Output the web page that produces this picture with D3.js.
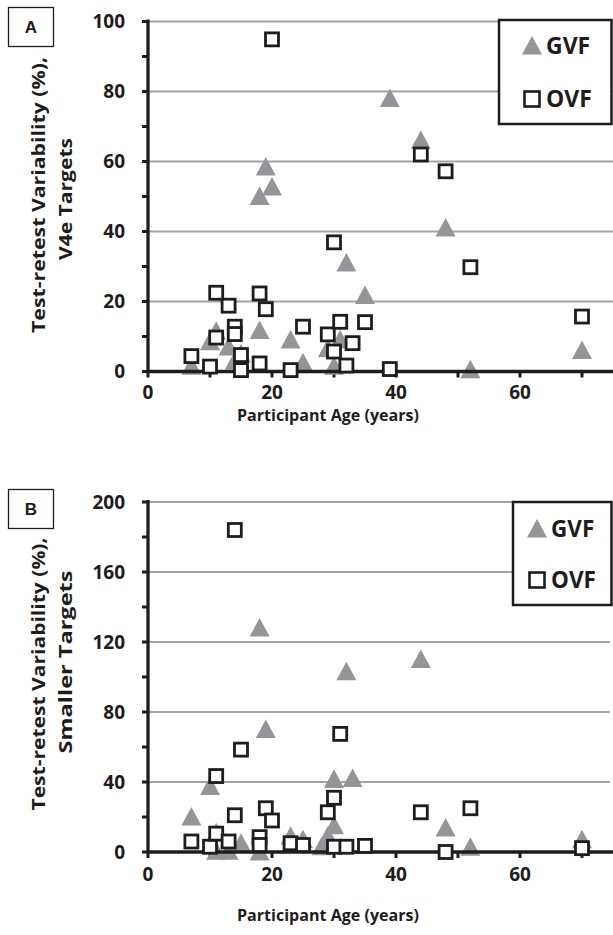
<!DOCTYPE html>
<html><head><meta charset="utf-8">
<script src="https://cdn.jsdelivr.net/npm/d3@7"></script>
<style>
html,body{margin:0;padding:0;background:#fff;}
svg text{font-family:"Open Sans",Lato,sans-serif;font-weight:700;fill:#1f1c1d;}
</style></head>
<body>
<svg id="c" width="613" height="935"></svg>
<script>
// ---------- data ----------
const seriesNames = ["GVF", "OVF"];
const xTickLabels = [0, 20, 40, 60];
const xMinorTicks = [10, 30, 50, 70];
const yTicksA = [0, 20, 40, 60, 80, 100];
const yMinorA = [10, 30, 50, 70, 90];
const yTicksB = [0, 40, 80, 120, 160, 200];
const yMinorB = [20, 60, 100, 140, 180];

// Panel A: V4e targets  [age, variability %]
const gvfA_age = [7, 10, 11, 13, 14, 15, 18, 18, 19, 20, 23, 25, 29, 30, 31, 32, 35, 39, 44, 48, 52, 70];
const gvfA_val = [1.5, 8.5, 11.5, 7, 3, 5, 11.7, 50, 58.4, 52.7, 9, 2.5, 6.5, 1.5, 9, 31, 21.7, 78, 66, 41, 0.5, 6];
const ovfA_age = [7, 10, 11, 11, 13, 14, 14, 15, 15, 18, 18, 19, 20, 23, 25, 29, 30, 30, 31, 32, 33, 35, 39, 44, 48, 52, 70];
const ovfA_val = [4.4, 1.4, 22.5, 9.7, 18.8, 12.8, 10.7, 4.7, 0.4, 22.3, 2.3, 17.8, 94.9, 0.4, 12.8, 10.6, 36.9, 5.7, 14.2, 1.7, 8.1, 14.1, 0.7, 62, 57.2, 29.8, 15.7];

// Panel B: smaller targets
const gvfB_age = [7, 10, 11, 11, 13, 15, 18, 18, 19, 23, 25, 28, 29, 30, 30, 32, 33, 44, 48, 52, 70];
const gvfB_val = [20, 37.5, 11, 0.5, 0.5, 5, 128, 0, 70, 9, 7, 3, 9, 41.5, 15, 103, 42, 110, 13.7, 2.7, 7];
const ovfB_age = [7, 10, 11, 11, 13, 14, 14, 15, 18, 18, 19, 20, 23, 25, 29, 30, 30, 31, 32, 35, 44, 48, 52, 70];
const ovfB_val = [6, 3, 10.5, 43.4, 6, 21, 184, 58.5, 8.5, 4, 25, 18, 5, 4, 22.7, 31, 3, 67.5, 3, 3.5, 22.7, 0, 25, 2.2];

// ---------- drawing ----------
const svg = d3.select("#c");
const GRAY = "#939598";
const INK = "#1f1c1d";

function panel(opt) {
  const g = svg.append("g");
  const x = d3.scaleLinear().domain([0, 75]).range([148, 613]);
  const y = d3.scaleLinear().domain(opt.yDomain).range([opt.y0, opt.yTop]);

  // gridlines
  g.selectAll("line.grid").data(opt.yTicks.filter(d => d > 0)).join("line")
    .attr("x1", x(0)).attr("x2", opt.gridEnd)
    .attr("y1", d => y(d)).attr("y2", d => y(d))
    .attr("stroke", "#a3a3a3").attr("stroke-width", 2.2);

  // y axis ticks (major + minor)
  g.selectAll("line.yt").data(opt.yTicks.concat(opt.yMinor)).join("line")
    .attr("x1", x(0) - 6).attr("x2", x(0))
    .attr("y1", d => y(d)).attr("y2", d => y(d))
    .attr("stroke", INK).attr("stroke-width", 3);
  g.selectAll("text.yl").data(opt.yTicks).join("text")
    .attr("x", 125).attr("y", d => y(d)).attr("dy", "0.36em")
    .attr("text-anchor", "end").attr("font-size", 19)
    .text(d => d);

  // x axis ticks
  g.selectAll("line.xt").data(xTickLabels.concat(xMinorTicks)).join("line")
    .attr("x1", d => x(d)).attr("x2", d => x(d))
    .attr("y1", opt.y0).attr("y2", opt.y0 + 6)
    .attr("stroke", INK).attr("stroke-width", 3);
  g.selectAll("text.xl").data(xTickLabels).join("text")
    .attr("x", d => x(d)).attr("y", opt.y0 + opt.xLabOff).attr("dy", "0.36em")
    .attr("text-anchor", "middle").attr("font-size", 19)
    .text(d => d);

  // y axis line
  g.append("line").attr("x1", x(0)).attr("x2", x(0)).attr("y1", opt.yTop - 2).attr("y2", opt.y0 + 1.5)
    .attr("stroke", INK).attr("stroke-width", 3.3);

  // GVF triangles
  const tri = "M0,-10L10,8.5L-10,8.5Z";
  g.selectAll("path.gvf").data(opt.gvfAge.map((a, i) => [a, opt.gvfVal[i]])).join("path")
    .attr("d", tri).attr("fill", GRAY)
    .attr("transform", d => `translate(${x(d[0])},${y(d[1])})`);

  // x axis line
  g.append("line").attr("x1", x(0) - 1.5).attr("x2", 613).attr("y1", opt.y0).attr("y2", opt.y0)
    .attr("stroke", INK).attr("stroke-width", 3.3);

  // OVF squares
  g.selectAll("rect.ovf").data(opt.ovfAge.map((a, i) => [a, opt.ovfVal[i]])).join("rect")
    .attr("x", d => x(d[0]) - 6.5).attr("y", d => y(d[1]) - 6.5)
    .attr("width", 13).attr("height", 13)
    .attr("fill", "#fff").attr("stroke", INK).attr("stroke-width", 2.8);

  // axis titles
  g.append("text").attr("x", 328).attr("y", opt.xTitleC).attr("dy", "0.36em")
    .attr("text-anchor", "middle").attr("font-size", 15.5)
    .attr("textLength", 182).attr("lengthAdjust", "spacingAndGlyphs")
    .text("Participant Age (years)");
  g.append("text").attr("text-anchor", "middle").attr("font-size", 17)
    .attr("transform", `translate(39,${opt.yT1c}) rotate(-90)`).attr("dy", "0.36em")
    .attr("textLength", opt.yT1len).attr("lengthAdjust", "spacingAndGlyphs")
    .text("Test-retest Variability (%),");
  g.append("text").attr("text-anchor", "middle").attr("font-size", 17)
    .attr("transform", `translate(66,${opt.yT2c}) rotate(-90)`).attr("dy", "0.36em")
    .attr("textLength", opt.yT2len).attr("lengthAdjust", "spacingAndGlyphs")
    .text(opt.yTitle2);

  // panel letter box
  g.append("rect").attr("x", 8.5).attr("y", opt.letterY).attr("width", 45).attr("height", 39)
    .attr("fill", "#fff").attr("stroke", INK).attr("stroke-width", 1.3);
  g.append("text").attr("x", 31).attr("y", opt.letterY + 19.5).attr("dy", "0.36em").attr("text-anchor", "middle")
    .attr("font-size", 17).style("font-family", "'Liberation Sans', Arial, sans-serif").text(opt.letter);

  // legend
  const L = opt.legend;
  g.append("rect").attr("x", L.x).attr("y", L.y).attr("width", 613 - L.x - 1.5).attr("height", L.h)
    .attr("fill", "#fff").attr("stroke", INK).attr("stroke-width", 2.5);
  g.append("path").attr("d", tri).attr("fill", GRAY)
    .attr("transform", `translate(${L.mx},${L.y1})`);
  g.append("rect").attr("x", L.mx - 7.5).attr("y", L.y2 - 7.5).attr("width", 15).attr("height", 15)
    .attr("fill", "#fff").attr("stroke", INK).attr("stroke-width", 2.6);
  g.append("text").attr("x", L.tx).attr("y", L.y1).attr("dy", "0.36em").attr("font-size", L.fs).text(seriesNames[0]);
  g.append("text").attr("x", L.tx).attr("y", L.y2).attr("dy", "0.36em").attr("font-size", L.fs).text(seriesNames[1]);
}

panel({
  yDomain: [0, 100], y0: 371.5, yTop: 21.5, gridEnd: 613,
  yTicks: yTicksA, yMinor: yMinorA,
  gvfAge: gvfA_age, gvfVal: gvfA_val, ovfAge: ovfA_age, ovfVal: ovfA_val,
  xLabOff: 20.5, xTitleC: 415.5,
  yT1c: 195, yT1len: 276, yT2c: 199, yT2len: 122, yTitle2: "V4e Targets",
  letter: "A", letterY: 7.5,
  legend: { x: 499, y: 20, h: 104, mx: 532, y1: 46, y2: 99, tx: 546, fs: 23 }
});
panel({
  yDomain: [0, 200], y0: 852, yTop: 502, gridEnd: 610,
  yTicks: yTicksB, yMinor: yMinorB,
  gvfAge: gvfB_age, gvfVal: gvfB_val, ovfAge: ovfB_age, ovfVal: ovfB_val,
  xLabOff: 22, xTitleC: 915,
  yT1c: 674, yT1len: 273, yT2c: 662, yT2len: 183, yTitle2: "Smaller Targets",
  letter: "B", letterY: 489.5,
  legend: { x: 513, y: 502, h: 103, mx: 537, y1: 529, y2: 580, tx: 551, fs: 22.5 }
});
</script>
</body></html>
